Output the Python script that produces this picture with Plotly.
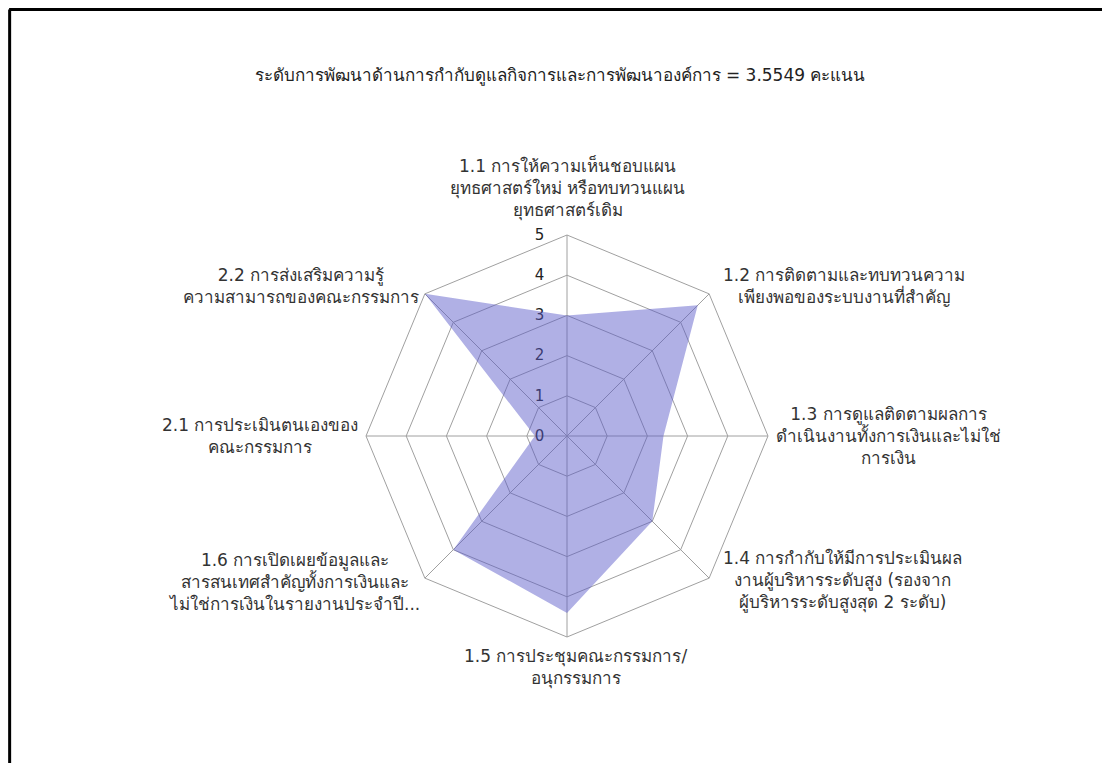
import math
import plotly.graph_objects as go

categories = [
    "1.1 การให้ความเห็นชอบแผน<br>ยุทธศาสตร์ใหม่ หรือทบทวนแผน<br>ยุทธศาสตร์เดิม",
    "1.2 การติดตามและทบทวนความ<br>เพียงพอของระบบงานที่สำคัญ",
    "1.3 การดูแลติดตามผลการ<br>ดำเนินงานทั้งการเงินและไม่ใช่<br>การเงิน",
    "1.4 การกำกับให้มีการประเมินผล<br>งานผู้บริหารระดับสูง (รองจาก<br>ผู้บริหารระดับสูงสุด 2 ระดับ)",
    "1.5 การประชุมคณะกรรมการ/<br>อนุกรรมการ",
    "1.6 การเปิดเผยข้อมูลและ<br>สารสนเทศสำคัญทั้งการเงินและ<br>ไม่ใช่การเงินในรายงานประจำปี...",
    "2.1 การประเมินตนเองของ<br>คณะกรรมการ",
    "2.2 การส่งเสริมความรู้<br>ความสามารถของคณะกรรมการ",
]
scores = [3.0, 4.6, 2.4, 3.0, 4.4, 4.0, 0.8, 5.0]
radial_ticks = [0, 1, 2, 3, 4, 5]
title_text = "ระดับการพัฒนาด้านการกำกับดูแลกิจการและการพัฒนาองค์การ = 3.5549 คะแนน"

FONT = "'DejaVu Sans', 'Noto Sans', sans-serif"
LABEL_SIZE = 17

fig = go.Figure()
fig.add_trace(go.Scatterpolar(
    r=scores + scores[:1],
    theta=categories + categories[:1],
    mode="lines",
    fill="toself",
    fillcolor="rgba(90,90,200,0.48)",
    line=dict(width=0, color="rgba(90,90,200,0.48)"),
    hoverinfo="skip",
    showlegend=False,
))

W, H = 1094, 755
cx, cy, R = 559, 428, 201
rmax = 5

# label placement (anchor, offsets) around each spoke's outer vertex
label_style = [
    ("center", "bottom", 0, 12),
    ("left", "middle", 12, 8),
    ("left", "middle", 6, 0),
    ("left", "middle", 12, -2),
    ("center", "top", 8, -7),
    ("right", "middle", -3, -4),
    ("right", "middle", -6, 0),
    ("right", "middle", -4, 8),
]
annotations = []
n = len(categories)
for k, (lab, (xa, ya, dx, dy)) in enumerate(zip(categories, label_style)):
    ang = math.radians(90 - 360.0 * k / n)
    px = cx + R * math.cos(ang)
    py = cy - R * math.sin(ang)
    annotations.append(dict(
        text=lab, xref="paper", yref="paper",
        x=px / W, y=1 - py / H,
        xanchor=xa, yanchor=ya, xshift=dx, yshift=dy,
        align="center", showarrow=False,
        font=dict(family=FONT, size=LABEL_SIZE, color="#333333"),
    ))

fig.update_layout(
    width=W, height=H,
    margin=dict(l=0, r=0, t=0, b=0),
    paper_bgcolor="white",
    plot_bgcolor="white",
    font=dict(family=FONT, size=LABEL_SIZE, color="#333333"),
    title=dict(
        text=title_text,
        x=552 / W, y=1 - 67 / H,
        xanchor="center", yanchor="middle",
        font=dict(family=FONT, size=LABEL_SIZE, color="#222222"),
    ),
    polar=dict(
        domain=dict(x=[(cx - R) / W, (cx + R) / W],
                    y=[(H - cy - R) / H, (H - cy + R) / H]),
        gridshape="linear",
        bgcolor="white",
        radialaxis=dict(
            range=[0, rmax],
            tickvals=radial_ticks,
            ticktext=[str(v) for v in radial_ticks],
            angle=90,
            tickangle=90,
            side="counterclockwise",
            showline=False,
            ticks="outside",
            ticklen=17,
            tickcolor="rgba(0,0,0,0)",
            gridcolor="#a0a0a0",
            gridwidth=1,
            layer="below traces",
            tickfont=dict(family=FONT, size=15, color="#222222"),
        ),
        angularaxis=dict(
            direction="clockwise",
            rotation=90,
            showline=True,
            linecolor="#a0a0a0",
            linewidth=1,
            gridcolor="#a0a0a0",
            gridwidth=1,
            ticks="",
            showticklabels=False,
            layer="below traces",
        ),
    ),
    annotations=annotations,
    shapes=[
        dict(type="line", xref="paper", yref="paper", x0=0.001, x1=1, y0=0.998, y1=0.998,
             line=dict(color="black", width=3)),
        dict(type="line", xref="paper", yref="paper", x0=0.0015, x1=0.0015, y0=0, y1=0.998,
             line=dict(color="black", width=3)),
    ],
)

fig.write_html("out.html")
